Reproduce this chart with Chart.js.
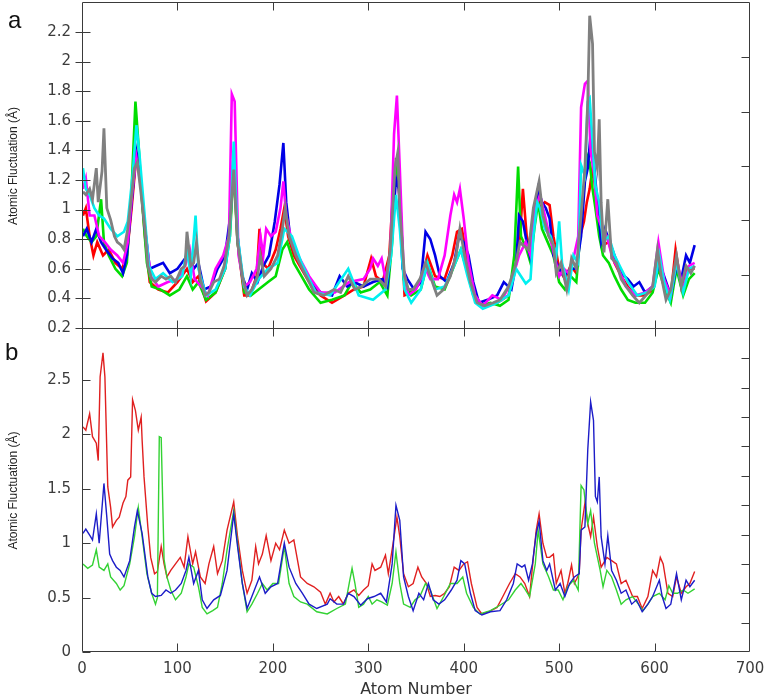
<!DOCTYPE html>
<html lang="en">
<head>
<meta charset="UTF-8">
<title>Atomic Fluctuation</title>
<style>
  body { margin: 0; background: #fff; }
  #wrap { position: relative; width: 770px; height: 699px; }
  #chartA, #chartB { position: absolute; left: 0; }
  #chartA { top: 0; }
  #chartB { top: 320px; }
</style>
</head>
<body>
<div id="wrap">
  <canvas id="chartA" width="770" height="340"></canvas>
  <canvas id="chartB" width="770" height="379"></canvas>
</div>
<script src="https://cdn.jsdelivr.net/npm/chart.js@4"></script>
<script>
// panel a : [atom number, fluctuation]
const aRed = [[1,0.96],[4,1.01],[8,0.82],[12,0.69],[16,0.78],[22,0.69],[28,0.73],[35,0.64],[42,0.60],[47,0.69],[52,1.01],[57,1.37],[61,1.23],[66,0.82],[71,0.51],[80,0.46],[90,0.44],[100,0.51],[110,0.60],[116,0.51],[122,0.55],[130,0.38],[140,0.44],[150,0.60],[155,0.87],[159,1.32],[163,0.78],[170,0.42],[176,0.42],[183,0.55],[186,0.87],[189,0.64],[195,0.60],[203,0.73],[208,0.87],[212,1.01],[216,0.82],[222,0.69],[230,0.60],[238,0.51],[250,0.42],[262,0.37],[275,0.42],[285,0.46],[295,0.48],[300,0.60],[303,0.67],[308,0.55],[315,0.51],[322,0.69],[327,1.23],[330,1.32],[334,0.96],[338,0.42],[345,0.44],[355,0.51],[362,0.69],[370,0.55],[380,0.53],[388,0.69],[393,0.85],[398,0.87],[402,0.73],[408,0.51],[416,0.37],[425,0.35],[435,0.37],[447,0.42],[455,0.64],[459,0.82],[462,1.14],[466,0.82],[470,0.73],[473,0.94],[477,1.10],[480,1.01],[485,1.05],[490,1.03],[494,0.82],[500,0.60],[506,0.53],[512,0.62],[518,0.57],[522,0.82],[526,0.92],[529,1.05],[532,1.14],[535,1.28],[538,1.14],[541,0.94],[546,0.76],[552,0.78],[558,0.64],[565,0.55],[572,0.48],[580,0.42],[590,0.42],[598,0.46],[604,0.69],[610,0.53],[617,0.42],[622,0.73],[628,0.48],[634,0.60],[642,0.60]];
const aGreen = [[1,0.87],[5,0.82],[10,0.78],[15,0.82],[20,1.07],[23,0.78],[28,0.69],[35,0.60],[42,0.55],[47,0.64],[52,1.14],[56,1.73],[59,1.46],[63,1.05],[68,0.64],[73,0.48],[82,0.46],[92,0.42],[102,0.46],[110,0.55],[116,0.46],[122,0.51],[130,0.39],[140,0.44],[150,0.60],[155,0.82],[159,1.28],[163,0.78],[170,0.44],[177,0.42],[185,0.46],[195,0.51],[203,0.55],[210,0.73],[215,0.78],[222,0.64],[230,0.55],[238,0.46],[250,0.37],[262,0.39],[275,0.42],[283,0.51],[292,0.44],[302,0.46],[312,0.51],[320,0.42],[325,0.78],[329,1.35],[333,1.14],[337,0.53],[345,0.42],[355,0.46],[362,0.64],[370,0.48],[380,0.46],[390,0.62],[397,0.73],[403,0.60],[410,0.42],[418,0.35],[428,0.37],[438,0.35],[447,0.39],[453,0.69],[457,1.29],[460,0.82],[466,0.73],[470,0.64],[474,0.87],[478,1.05],[482,0.87],[488,0.78],[494,0.69],[500,0.51],[506,0.46],[512,0.55],[518,0.51],[522,0.82],[526,1.14],[529,1.37],[532,1.32],[535,1.14],[538,1.01],[542,0.82],[546,0.69],[552,0.64],[558,0.55],[565,0.46],[572,0.39],[580,0.37],[590,0.37],[598,0.44],[604,0.60],[610,0.48],[617,0.37],[623,0.60],[630,0.42],[636,0.53],[642,0.57]];
const aBlue = [[1,0.82],[5,0.87],[10,0.78],[15,0.87],[20,0.78],[25,0.73],[32,0.67],[38,0.64],[43,0.57],[47,0.69],[52,1.05],[57,1.39],[61,1.23],[66,0.87],[71,0.60],[78,0.62],[85,0.64],[92,0.57],[100,0.60],[108,0.67],[112,0.73],[117,0.60],[122,0.64],[128,0.46],[135,0.48],[142,0.60],[150,0.69],[155,0.94],[159,1.39],[163,0.82],[168,0.55],[173,0.46],[178,0.57],[184,0.51],[190,0.62],[196,0.69],[202,0.92],[207,1.17],[211,1.45],[214,1.05],[218,0.82],[225,0.69],[232,0.60],[238,0.53],[250,0.44],[262,0.42],[270,0.55],[278,0.48],[285,0.51],[295,0.48],[305,0.51],[315,0.53],[320,0.48],[325,0.82],[329,1.21],[332,1.14],[336,0.60],[341,0.53],[348,0.46],[355,0.51],[360,0.85],[365,0.80],[370,0.69],[375,0.55],[382,0.51],[390,0.64],[395,0.82],[400,0.78],[405,0.69],[410,0.51],[416,0.37],[425,0.39],[435,0.42],[442,0.51],[450,0.46],[455,0.64],[458,0.96],[462,0.92],[466,0.78],[470,0.67],[474,0.96],[478,1.14],[482,1.05],[486,1.01],[490,0.94],[494,0.69],[500,0.60],[505,0.55],[512,0.60],[518,0.60],[523,0.82],[527,1.19],[530,1.28],[533,1.51],[536,1.35],[540,1.05],[544,0.78],[548,0.87],[553,0.78],[558,0.69],[565,0.57],[572,0.53],[578,0.48],[584,0.51],[590,0.44],[598,0.48],[605,0.64],[610,0.55],[617,0.42],[623,0.62],[628,0.53],[633,0.69],[637,0.64],[642,0.76]];
const aMagenta = [[1,1.14],[4,1.21],[8,0.96],[13,0.96],[18,0.82],[24,0.78],[30,0.73],[37,0.69],[43,0.64],[48,0.78],[53,1.14],[57,1.35],[62,1.14],[67,0.82],[72,0.55],[80,0.48],[90,0.51],[100,0.53],[108,0.62],[113,0.73],[118,0.53],[125,0.48],[132,0.42],[140,0.60],[148,0.69],[154,0.82],[157,1.78],[160,1.73],[164,0.69],[170,0.48],[176,0.51],[183,0.60],[187,0.82],[190,0.69],[193,0.87],[198,0.82],[203,0.85],[208,1.01],[211,1.19],[214,0.96],[220,0.78],[228,0.67],[238,0.55],[250,0.44],[265,0.44],[280,0.51],[295,0.53],[302,0.60],[305,0.67],[310,0.62],[314,0.67],[318,0.53],[323,0.69],[327,1.51],[330,1.77],[333,1.28],[337,0.60],[342,0.42],[350,0.46],[360,0.60],[365,0.53],[373,0.53],[380,0.69],[386,0.96],[390,1.10],[393,1.05],[396,1.14],[400,0.94],[405,0.64],[412,0.42],[420,0.35],[430,0.42],[440,0.39],[450,0.51],[458,0.69],[465,0.78],[470,0.69],[475,1.01],[480,1.10],[485,0.96],[490,0.82],[495,0.69],[500,0.55],[505,0.60],[510,0.57],[515,0.67],[520,0.82],[523,1.69],[527,1.85],[530,1.87],[533,1.39],[537,1.23],[540,0.96],[545,0.87],[550,0.82],[556,0.67],[562,0.60],[570,0.48],[580,0.42],[590,0.44],[598,0.48],[604,0.78],[610,0.53],[617,0.42],[623,0.67],[630,0.46],[636,0.62],[642,0.64]];
const aCyan = [[1,1.28],[4,1.14],[8,1.10],[13,1.01],[18,0.96],[23,0.94],[30,0.87],[37,0.82],[44,0.85],[48,0.92],[53,1.23],[57,1.57],[60,1.39],[65,1.01],[70,0.62],[77,0.53],[85,0.57],[95,0.51],[105,0.55],[110,0.73],[114,0.55],[119,0.96],[122,0.60],[130,0.42],[140,0.46],[150,0.60],[155,0.82],[159,1.46],[163,0.82],[170,0.48],[176,0.42],[185,0.53],[195,0.60],[205,0.64],[212,0.87],[220,0.82],[230,0.64],[238,0.53],[245,0.44],[260,0.42],[279,0.60],[290,0.42],[305,0.39],[318,0.46],[324,0.69],[329,1.10],[333,0.87],[338,0.46],[345,0.37],[355,0.46],[362,0.64],[370,0.46],[380,0.48],[390,0.62],[397,0.73],[404,0.55],[412,0.37],[420,0.33],[435,0.37],[447,0.42],[455,0.60],[460,0.55],[465,0.50],[470,0.53],[473,0.82],[477,1.05],[480,1.01],[485,0.87],[491,0.82],[497,0.69],[500,0.92],[503,0.64],[510,0.46],[515,0.69],[520,0.64],[523,1.30],[527,1.23],[530,1.73],[532,1.75],[535,1.46],[538,1.16],[542,1.05],[546,0.78],[552,0.82],[558,0.69],[565,0.60],[572,0.51],[582,0.42],[592,0.44],[600,0.48],[605,0.69],[610,0.51],[616,0.39],[623,0.64],[630,0.44],[636,0.60],[642,0.62]];
const aGray = [[1,1.12],[4,1.10],[8,1.14],[11,1.07],[15,1.28],[17,1.05],[21,1.26],[23,1.55],[26,1.01],[30,0.93],[34,0.82],[37,0.78],[41,0.76],[44,0.73],[48,0.87],[52,1.10],[55,1.28],[58,1.32],[62,1.10],[66,0.87],[69,0.62],[73,0.53],[77,0.51],[83,0.55],[88,0.53],[93,0.55],[98,0.51],[104,0.60],[108,0.62],[110,0.85],[114,0.62],[117,0.64],[120,0.78],[124,0.53],[129,0.42],[133,0.44],[138,0.51],[144,0.53],[149,0.62],[154,0.82],[159,1.27],[163,0.78],[168,0.55],[173,0.42],[178,0.46],[184,0.55],[187,0.69],[191,0.55],[198,0.60],[205,0.69],[210,0.87],[213,1.01],[217,0.82],[224,0.69],[231,0.60],[238,0.51],[243,0.44],[253,0.42],[264,0.46],[271,0.44],[279,0.55],[286,0.46],[293,0.48],[302,0.53],[311,0.53],[318,0.48],[323,0.73],[328,1.28],[331,1.39],[333,1.01],[338,0.55],[342,0.46],[347,0.46],[354,0.53],[360,0.64],[365,0.55],[372,0.42],[379,0.46],[386,0.55],[392,0.69],[396,0.87],[401,0.69],[407,0.51],[414,0.37],[422,0.35],[431,0.37],[438,0.39],[447,0.48],[454,0.62],[459,0.78],[462,0.76],[468,0.73],[473,1.01],[476,1.10],[479,1.19],[483,0.96],[489,0.82],[494,0.76],[497,0.57],[502,0.64],[508,0.46],[513,0.67],[518,0.60],[523,0.96],[527,1.28],[530,1.73],[532,2.31],[535,2.12],[537,1.39],[540,1.28],[542,1.61],[544,1.05],[547,0.71],[551,1.07],[555,0.67],[560,0.64],[565,0.53],[570,0.48],[577,0.42],[584,0.37],[591,0.42],[598,0.48],[603,0.73],[607,0.55],[612,0.39],[617,0.46],[623,0.69],[628,0.48],[633,0.62],[638,0.57],[642,0.62]];

// panel b
const bRed = [[1,2.07],[4,2.04],[8,2.19],[11,1.98],[15,1.92],[17,1.76],[19,2.53],[22,2.75],[24,2.53],[27,1.52],[30,1.33],[32,1.15],[36,1.21],[39,1.24],[43,1.37],[46,1.43],[48,1.58],[51,1.61],[53,2.32],[56,2.22],[59,2.04],[62,2.16],[63,1.95],[65,1.61],[69,1.15],[72,0.87],[76,0.72],[79,0.74],[83,0.97],[86,0.81],[89,0.69],[93,0.75],[98,0.81],[103,0.87],[107,0.78],[111,1.06],[116,0.81],[119,0.92],[124,0.69],[129,0.63],[133,0.81],[138,0.97],[142,0.72],[147,0.84],[152,1.12],[159,1.38],[163,1.06],[168,0.75],[173,0.54],[178,0.66],[182,0.97],[185,0.81],[189,0.90],[193,1.07],[198,0.84],[203,1.00],[207,0.94],[212,1.12],[217,1.00],[222,1.03],[229,0.69],[236,0.63],[243,0.60],[250,0.55],[255,0.44],[260,0.54],[264,0.46],[269,0.51],[274,0.44],[279,0.54],[285,0.57],[290,0.52],[295,0.57],[300,0.61],[304,0.81],[307,0.75],[313,0.78],[318,0.89],[321,0.72],[326,1.00],[330,1.24],[333,1.06],[337,0.72],[342,0.60],[347,0.63],[352,0.78],[356,0.69],[361,0.63],[365,0.51],[370,0.52],[375,0.51],[380,0.54],[385,0.60],[390,0.78],[395,0.75],[400,0.81],[404,0.83],[408,0.63],[414,0.41],[419,0.35],[426,0.37],[435,0.41],[441,0.51],[448,0.63],[454,0.72],[459,0.69],[464,0.63],[469,0.51],[473,0.87],[476,1.12],[479,1.27],[483,1.00],[487,0.87],[490,0.87],[494,0.90],[497,0.63],[502,0.75],[506,0.54],[509,0.63],[513,0.80],[516,0.63],[521,0.72],[523,1.12],[527,1.37],[530,1.18],[533,1.06],[536,1.24],[540,0.97],[544,0.78],[550,0.87],[555,0.84],[560,0.81],[565,0.63],[570,0.66],[577,0.51],[582,0.51],[587,0.40],[593,0.51],[598,0.75],[602,0.69],[606,0.87],[609,0.81],[614,0.54],[619,0.51],[623,0.69],[628,0.54],[633,0.60],[637,0.63],[642,0.74]];
const bGreen = [[1,0.81],[6,0.77],[11,0.80],[15,0.94],[18,0.78],[23,0.75],[27,0.81],[30,0.69],[36,0.63],[40,0.57],[44,0.61],[50,0.81],[55,1.06],[59,1.33],[63,1.06],[68,0.72],[73,0.54],[77,0.44],[79,0.50],[81,1.98],[83,1.97],[86,0.85],[89,0.69],[93,0.57],[98,0.48],[104,0.54],[109,0.69],[112,0.81],[117,0.78],[122,0.60],[126,0.41],[131,0.35],[137,0.38],[142,0.41],[147,0.63],[152,0.94],[159,1.30],[163,1.00],[168,0.63],[173,0.37],[178,0.44],[184,0.54],[189,0.63],[194,0.57],[200,0.63],[206,0.63],[212,0.97],[217,0.63],[222,0.51],[229,0.46],[236,0.44],[246,0.37],[257,0.35],[267,0.40],[276,0.44],[280,0.63],[283,0.77],[286,0.63],[290,0.41],[295,0.44],[300,0.51],[304,0.44],[309,0.48],[314,0.46],[320,0.43],[325,0.63],[329,0.92],[333,0.63],[337,0.44],[344,0.41],[349,0.48],[354,0.51],[360,0.63],[365,0.57],[372,0.40],[379,0.51],[386,0.63],[393,0.63],[399,0.69],[403,0.54],[410,0.41],[417,0.35],[428,0.38],[438,0.43],[447,0.48],[454,0.57],[460,0.63],[464,0.58],[469,0.51],[475,0.81],[478,1.12],[483,0.81],[489,0.69],[494,0.57],[499,0.57],[504,0.48],[509,0.60],[515,0.66],[520,0.57],[523,1.53],[526,1.49],[530,1.18],[533,1.30],[537,1.00],[543,0.75],[546,0.60],[550,0.75],[555,0.69],[560,0.57],[565,0.44],[570,0.48],[577,0.51],[583,0.44],[588,0.38],[593,0.44],[598,0.51],[605,0.54],[611,0.48],[615,0.61],[619,0.54],[624,0.54],[630,0.57],[635,0.54],[642,0.58]];
const bBlue = [[1,1.09],[4,1.13],[9,1.06],[11,1.03],[15,1.27],[18,1.00],[23,1.55],[26,1.24],[29,0.90],[32,0.84],[36,0.78],[40,0.75],[44,0.69],[50,0.84],[55,1.15],[58,1.30],[63,1.09],[69,0.69],[73,0.54],[77,0.51],[83,0.52],[88,0.57],[93,0.54],[98,0.57],[104,0.63],[109,0.75],[112,0.87],[117,0.63],[122,0.75],[126,0.48],[131,0.40],[138,0.48],[145,0.52],[152,0.75],[159,1.27],[163,0.97],[168,0.63],[173,0.40],[178,0.51],[186,0.69],[192,0.54],[198,0.60],[205,0.63],[212,1.00],[217,0.78],[224,0.63],[231,0.54],[238,0.44],[246,0.40],[257,0.44],[260,0.49],[267,0.44],[274,0.44],[279,0.54],[285,0.51],[292,0.43],[299,0.49],[306,0.51],[313,0.54],[319,0.46],[325,0.81],[329,1.35],[333,1.21],[337,0.69],[342,0.51],[347,0.38],[353,0.54],[358,0.48],[363,0.63],[368,0.48],[374,0.44],[380,0.48],[387,0.57],[393,0.66],[397,0.84],[401,0.81],[407,0.54],[412,0.38],[419,0.34],[428,0.37],[438,0.38],[445,0.48],[452,0.63],[456,0.81],[461,0.78],[464,0.80],[468,0.66],[472,0.81],[476,1.09],[479,1.20],[483,0.84],[487,0.75],[490,0.81],[496,0.57],[501,0.63],[506,0.51],[511,0.63],[516,0.69],[521,0.72],[523,1.12],[527,1.15],[530,1.86],[533,2.30],[536,2.13],[538,1.43],[540,1.38],[542,1.61],[544,1.06],[548,0.81],[551,1.07],[555,0.75],[560,0.66],[565,0.54],[570,0.57],[576,0.44],[581,0.48],[587,0.37],[593,0.44],[598,0.51],[605,0.66],[608,0.51],[612,0.40],[617,0.44],[623,0.72],[628,0.48],[633,0.66],[637,0.60],[642,0.66]];

// axis ranges
const xRange = [0, 700];
const aRange = [0.193, 2.396];
const bRange = [0, 2.97];

const tickFont = { family: 'DejaVu Sans', size: 15 };
const titleFont = { family: 'Liberation Sans', size: 12 };

function pts(arr) { return arr.map(p => ({ x: p[0], y: p[1] })); }
function line(arr, color, width) {
    return { data: pts(arr), borderColor: color, borderWidth: width, pointRadius: 0, tension: 0, fill: false };
}
// keep tick labels from pushing the plot area inwards
function noPad(sc) { sc.paddingTop = 0; sc.paddingBottom = 0; sc.paddingLeft = 0; sc.paddingRight = 0; }

// frame with inward tick marks and the panel letter
const framePlugin = {
    id: 'frame',
    afterDatasetsDraw(chart, args, opts) {
        const ctx = chart.ctx, a = chart.chartArea, s = chart.scales;
        const L = Math.round(a.left) + 0.5, R = Math.round(a.right) - 0.5;
        const T = Math.round(a.top) - 0.5, B = Math.round(a.bottom) - 0.5;
        ctx.save();
        ctx.strokeStyle = '#3a3a3a';
        ctx.lineWidth = 1;
        ctx.beginPath();
        ctx.rect(L, T, R - L, B - T);
        s.x.ticks.forEach(t => {
            if (t.value <= s.x.min || t.value >= s.x.max) return;
            const px = Math.round(s.x.getPixelForValue(t.value)) + 0.5;
            ctx.moveTo(px, T); ctx.lineTo(px, T + 8);
            ctx.moveTo(px, B); ctx.lineTo(px, B - 8);
        });
        s.y.ticks.forEach(t => {
            const py = Math.round(s.y.getPixelForValue(t.value)) + 0.5;
            ctx.moveTo(L - opts.outLeft, py); ctx.lineTo(L + 8, py);
        });
        s.yr.ticks.forEach(t => {
            if (t.value <= s.yr.min || t.value >= s.yr.max) return;
            const py = Math.round(s.yr.getPixelForValue(t.value)) + 0.5;
            ctx.moveTo(R - 8, py); ctx.lineTo(R, py);
        });
        ctx.stroke();
        ctx.fillStyle = '#111';
        ctx.font = '24px "Liberation Sans"';
        ctx.fillText(opts.letter, opts.lx, opts.ly);
        ctx.restore();
    }
};

function yAxis(range, step) {
    return {
        type: 'linear', position: 'left', min: range[0], max: range[1],
        afterFit: sc => { sc.width = 82; noPad(sc); },
        grid: { display: false, drawTicks: false },
        border: { display: false },
        ticks: { stepSize: step, includeBounds: false, padding: 11, color: '#3c3c3c', font: tickFont,
                 callback: v => String(+v.toFixed(2)) },
        title: { display: true, text: 'Atomic Fluctuation (Å)', color: '#222', font: titleFont,
                 padding: { top: 6, bottom: 0 } }
    };
}

new Chart(document.getElementById('chartA'), {
    type: 'line',
    data: {
        datasets: [
            line(aGray, '#808080', 2.8),
            line(aCyan, '#00f0f0', 2.6),
            line(aMagenta, '#ff00ff', 2.6),
            line(aBlue, '#0000e6', 2.6),
            line(aGreen, '#00dd00', 2.6),
            line(aRed, '#ff0000', 2.6)
        ]
    },
    options: {
        responsive: false,
        animation: false,
        layout: { padding: { top: 3, right: 20, bottom: 11, left: 0 } },
        plugins: { legend: { display: false }, tooltip: { enabled: false },
                   frame: { letter: 'a', lx: 8, ly: 28, outLeft: 7 } },
        scales: {
            x: { type: 'linear', display: false, min: xRange[0], max: xRange[1], ticks: { stepSize: 100 } },
            y: yAxis(aRange, 0.2),
            yr: { type: 'linear', position: 'right', display: false, min: 0, max: 6, ticks: { stepSize: 1 } }
        }
    },
    plugins: [framePlugin]
});

new Chart(document.getElementById('chartB'), {
    type: 'line',
    data: {
        datasets: [
            line(bBlue, '#1c1cc8', 1.4),
            line(bGreen, '#33d233', 1.4),
            line(bRed, '#e02020', 1.4)
        ]
    },
    options: {
        responsive: false,
        animation: false,
        layout: { padding: { top: 9, right: 20, bottom: 0, left: 0 } },
        plugins: { legend: { display: false }, tooltip: { enabled: false },
                   frame: { letter: 'b', lx: 5, ly: 40, outLeft: 0 } },
        scales: {
            x: {
                type: 'linear', position: 'bottom', min: xRange[0], max: xRange[1],
                afterFit: sc => { sc.height = 47; noPad(sc); },
                grid: { display: false, drawTicks: false },
                border: { display: false },
                ticks: { stepSize: 100, padding: 8, color: '#3c3c3c', font: tickFont },
                title: { display: true, text: 'Atom Number', color: '#333', font: { family: 'DejaVu Sans', size: 16 },
                         padding: { top: 0, bottom: 0 } }
            },
            y: yAxis(bRange, 0.5),
            yr: { type: 'linear', position: 'right', display: false, min: 0, max: 11, ticks: { stepSize: 1 } }
        }
    },
    plugins: [framePlugin]
});
</script>
</body>
</html>
